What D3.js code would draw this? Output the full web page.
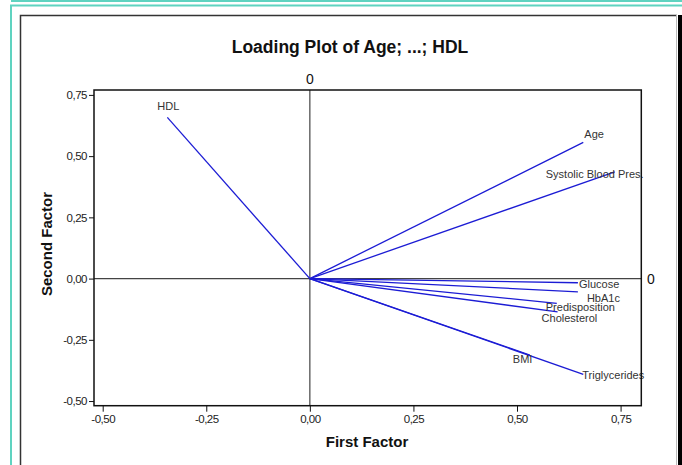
<!DOCTYPE html>
<html>
<head>
<meta charset="utf-8">
<script src="https://cdn.jsdelivr.net/npm/d3@7"></script>
<style>
  html, body { margin: 0; padding: 0; background: #fff; }
  svg { display: block; }
</style>
</head>
<body>
<svg id="chart" width="682" height="465"></svg>
<script>
// ---- data ----
const variables = ["Age", "Systolic Blood Pres.", "Glucose", "HbA1c", "Predisposition", "Cholesterol", "BMI", "Triglycerides", "HDL"];
const firstFactor  = [0.660, 0.736, 0.647, 0.647, 0.596, 0.598, 0.531, 0.660, -0.344];
const secondFactor = [0.556, 0.436, -0.017, -0.054, -0.101, -0.136, -0.312, -0.391, 0.658];
const xTicks = [-0.50, -0.25, 0.00, 0.25, 0.50, 0.75];
const yTicks = [-0.50, -0.25, 0.00, 0.25, 0.50, 0.75];
const titleText = "Loading Plot of Age; ...; HDL";
const xTitle = "First Factor";
const yTitle = "Second Factor";

// label placement (pixel offsets from each vector end)
const labelOffsets = {
  "Age": [1, -8], "Systolic Blood Pres.": [-69, 2], "Glucose": [1, 1], "HbA1c": [9, 6],
  "Predisposition": [-11, 4], "Cholesterol": [-16, 6], "BMI": [-17, 4],
  "Triglycerides": [-1, 1], "HDL": [-10, -11]
};

const svg = d3.select("#chart");
const fmt = d => d3.format(".2f")(d).replace(".", ",").replace("\u2212", "-");
const FONT = "'Liberation Sans', Arial, sans-serif";

// decorative frames
svg.append("line").attr("x1", 11).attr("x2", 682).attr("y1", 1).attr("y2", 1)
  .attr("stroke", "#5fd3c0").attr("stroke-width", 2);
svg.append("path").attr("d", "M11,465 V5.5 H682")
  .attr("fill", "none").attr("stroke", "#5fd3c0").attr("stroke-width", 2);
svg.append("path").attr("d", "M20.5,465 V15.5 H677")
  .attr("fill", "none").attr("stroke", "#333").attr("stroke-width", 1.5);
svg.append("rect").attr("x", 678).attr("y", 15).attr("width", 4).attr("height", 450).attr("fill", "#000");
svg.append("line").attr("x1", 676.5).attr("x2", 676.5).attr("y1", 15).attr("y2", 465)
  .attr("stroke", "#bbb").attr("stroke-width", 1);

// scales
const x = d3.scaleLinear().domain([-0.521, 0.80]).range([94, 641.3]);
const y = d3.scaleLinear().domain([-0.519, 0.77]).range([405.7, 90]);

// title
svg.append("text").attr("x", 350).attr("y", 53).attr("text-anchor", "middle")
  .attr("font-family", FONT).attr("font-weight", "bold")
  .attr("font-size", 17.5).attr("fill", "#111").text(titleText);

// zero lines
svg.append("line").attr("x1", x(0)).attr("x2", x(0)).attr("y1", y.range()[1]).attr("y2", y.range()[0])
  .attr("stroke", "#444").attr("stroke-width", 1.2);
svg.append("line").attr("x1", x.range()[0]).attr("x2", x.range()[1]).attr("y1", y(0)).attr("y2", y(0))
  .attr("stroke", "#444").attr("stroke-width", 1.2);
svg.append("text").attr("x", x(0)).attr("y", 84).attr("text-anchor", "middle")
  .attr("font-family", FONT).attr("font-size", 14).attr("fill", "#111").text("0");
svg.append("text").attr("x", 651).attr("y", y(0) + 5).attr("text-anchor", "middle")
  .attr("font-family", FONT).attr("font-size", 14).attr("fill", "#111").text("0");

// vectors
const idx = d3.range(variables.length);
svg.append("g").selectAll("line").data(idx).join("line")
  .attr("x1", x(0)).attr("y1", y(0))
  .attr("x2", i => x(firstFactor[i])).attr("y2", i => y(secondFactor[i]))
  .attr("stroke", "#1c1cd4").attr("stroke-width", 1.3);

svg.append("g").selectAll("text").data(idx).join("text")
  .attr("x", i => x(firstFactor[i]) + labelOffsets[variables[i]][0])
  .attr("y", i => y(secondFactor[i]) + labelOffsets[variables[i]][1])
  .attr("dy", "0.35em")
  .attr("font-family", FONT).attr("font-size", 11)
  .attr("fill", "#333").text(i => variables[i]);

// frame
svg.append("rect").attr("x", x.range()[0]).attr("y", y.range()[1])
  .attr("width", x.range()[1] - x.range()[0]).attr("height", y.range()[0] - y.range()[1])
  .attr("fill", "none").attr("stroke", "#111").attr("stroke-width", 1.5);

// axes
const xAxis = svg.append("g").attr("transform", `translate(0,${y.range()[0]})`)
  .call(d3.axisBottom(x).tickValues(xTicks).tickFormat(fmt).tickSize(6).tickPadding(3));
const yAxis = svg.append("g").attr("transform", `translate(${x.range()[0]},0)`)
  .call(d3.axisLeft(y).tickValues(yTicks).tickFormat(fmt).tickSize(5).tickPadding(2));
[xAxis, yAxis].forEach(g => {
  g.select(".domain").remove();
  g.selectAll("line").attr("stroke", "#111");
  g.selectAll("text").attr("font-family", FONT)
    .attr("font-size", 11.5).attr("fill", "#222").attr("letter-spacing", -0.5);
});

// axis titles
svg.append("text").attr("x", 367).attr("y", 447).attr("text-anchor", "middle")
  .attr("font-family", FONT).attr("font-weight", "bold")
  .attr("font-size", 15).attr("fill", "#111").text(xTitle);
svg.append("text").attr("transform", "translate(52,244) rotate(-90)").attr("text-anchor", "middle")
  .attr("font-family", FONT).attr("font-weight", "bold")
  .attr("font-size", 15).attr("fill", "#111").text(yTitle);
</script>
</body>
</html>
